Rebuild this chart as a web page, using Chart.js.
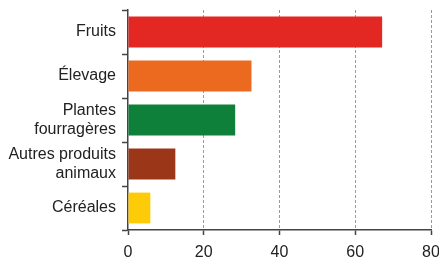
<!DOCTYPE html>
<html>
<head>
<meta charset="utf-8">
<script src="https://cdn.jsdelivr.net/npm/chart.js@4/dist/chart.umd.min.js"></script>
<style>
html,body{margin:0;padding:0;background:#fff;}
#wrap{width:439px;height:257px;position:relative;}
</style>
</head>
<body>
<div id="wrap"><canvas id="c" width="439" height="257"></canvas></div>
<script>
const categories = [["Fruits"], ["Élevage"], ["Plantes", "fourragères"], ["Autres produits", "animaux"], ["Céréales"]];
const values = [67.1, 32.6, 28.3, 12.5, 5.9];
const barColors = ["#e32722", "#ec6a20", "#0f8039", "#9b3718", "#fecb08"];
const xTicks = [0, 20, 40, 60, 80];

new Chart(document.getElementById('c'), {
  type: 'bar',
  data: {
    labels: categories,
    datasets: [{
      data: values,
      backgroundColor: barColors,
      borderWidth: 0,
      categoryPercentage: 1,
      barPercentage: 0.7
    }]
  },
  options: {
    indexAxis: 'y',
    responsive: false,
    animation: false,
    devicePixelRatio: 1,
    layout: { padding: { top: 10, left: 0, right: 8, bottom: 0 } },
    plugins: { legend: { display: false }, tooltip: { enabled: false } },
    scales: {
      y: {
        grid: {
          offset: true,
          drawOnChartArea: false,
          tickLength: 6,
          tickColor: '#444',
          tickWidth: 1.5
        },
        border: { display: true, color: '#444', width: 1.5 },
        ticks: {
          color: '#222',
          padding: 6,
          font: { family: 'Liberation Sans, Arial, sans-serif', size: 16, lineHeight: 1.15 }
        },
        afterFit: (s) => { s.width = 128; s.paddingTop = 0; s.paddingBottom = 0; }
      },
      x: {
        min: 0,
        max: 80,
        afterBuildTicks: (s) => { s.ticks = xTicks.map(v => ({ value: v })); },
        grid: {
          color: (ctx) => ctx.tick && ctx.tick.value === 0 ? 'rgba(0,0,0,0)' : '#9a9a9a',
          lineWidth: 1,
          tickLength: 5,
          tickColor: '#444',
          tickWidth: 1.5,
          tickBorderDash: [1, 0]
        },
        border: { display: true, color: '#444', width: 1.5, dash: [3, 2] },
        ticks: {
          color: '#222',
          padding: 8,
          maxRotation: 0,
          font: { family: 'Liberation Sans, Arial, sans-serif', size: 16 }
        },
        afterFit: (s) => { s.height = 27; s.paddingLeft = 0; s.paddingRight = 0; }
      }
    }
  }
});
</script>
</body>
</html>
